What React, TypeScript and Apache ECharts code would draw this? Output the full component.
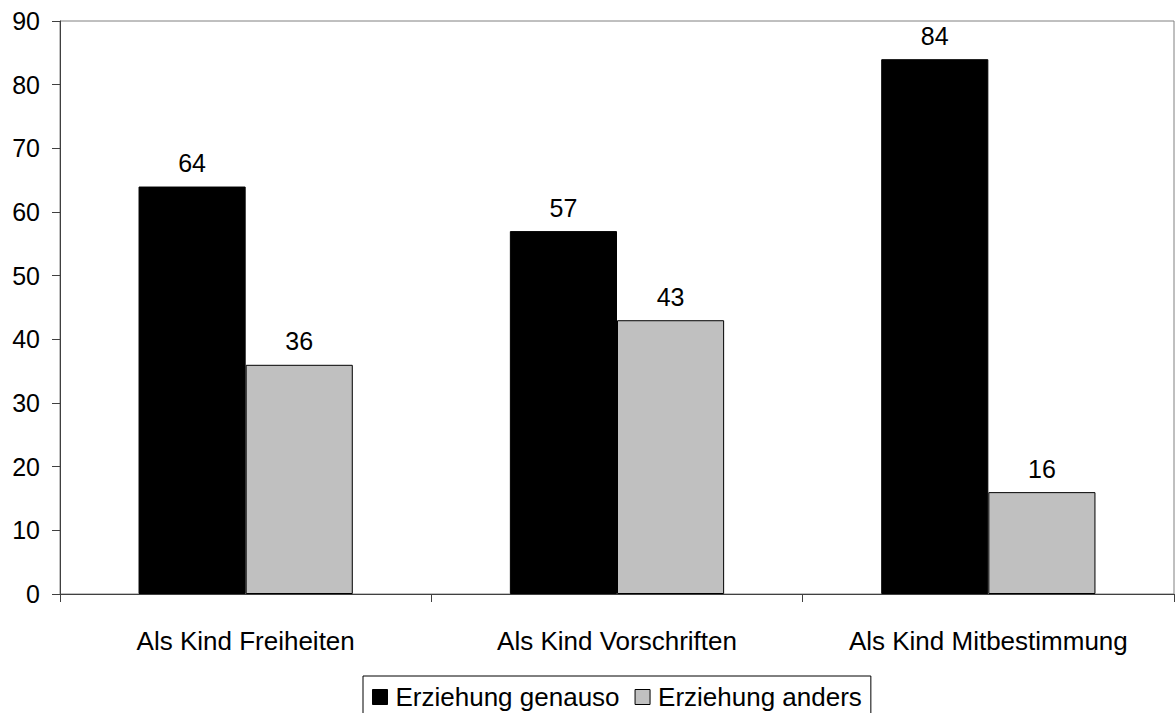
import React, { useEffect, useRef } from "react";
import * as echarts from "echarts";

const categories = ["Als Kind Freiheiten", "Als Kind Vorschriften", "Als Kind Mitbestimmung"];
const seriesNames = ["Erziehung genauso", "Erziehung anders"];
const genauso = [64, 57, 84];
const anders = [36, 43, 16];

export default function App() {
  const ref = useRef<HTMLDivElement>(null);
  useEffect(() => {
    document.body.style.margin = "0";
    const chart = echarts.init(ref.current!, null, { renderer: "svg" });
    const font = "'Liberation Sans', Arial, sans-serif";
    chart.setOption({
      animation: false,
      textStyle: { fontFamily: font },
      grid: {
        left: 60,
        right: 1,
        top: 21,
        bottom: 119,
        show: true,
        borderColor: "#808080",
        borderWidth: 1,
        containLabel: false,
      },
      legend: {
        top: 676,
        left: 363,
        data: seriesNames,
        icon: "rect",
        itemWidth: 15,
        itemHeight: 15,
        itemGap: 15,
        borderColor: "#000",
        borderWidth: 1,
        padding: [8, 9, 8, 9],
        itemStyle: { borderColor: "#000", borderWidth: 1 },
        textStyle: { fontSize: 26, color: "#000", fontFamily: font, padding: [12, 0, 0, 3] },
      },
      xAxis: {
        type: "category",
        data: categories,
        axisLine: { lineStyle: { color: "#404040", width: 1 } },
        axisTick: { show: true, length: 8, lineStyle: { color: "#404040" } },
        axisLabel: { fontSize: 26, color: "#000", margin: 34, fontFamily: font },
      },
      yAxis: {
        type: "value",
        min: 0,
        max: 90,
        interval: 10,
        splitLine: { show: false },
        axisLine: { show: true, lineStyle: { color: "#404040", width: 1 } },
        axisTick: { show: true, length: 8, lineStyle: { color: "#404040" } },
        axisLabel: { fontSize: 25, color: "#000", margin: 20, fontFamily: font },
      },
      series: [
        {
          name: seriesNames[0],
          type: "bar",
          data: genauso,
          barGap: "0%",
          barCategoryGap: "42.3%",
          itemStyle: { color: "#000", borderColor: "#000", borderWidth: 1 },
          label: { show: true, position: "top", distance: 11, fontSize: 25, color: "#000", fontFamily: font },
        },
        {
          name: seriesNames[1],
          type: "bar",
          data: anders,
          barGap: "0%",
          barCategoryGap: "42.3%",
          itemStyle: { color: "#c0c0c0", borderColor: "#000", borderWidth: 1 },
          label: { show: true, position: "top", distance: 11, fontSize: 25, color: "#000", fontFamily: font },
        },
      ],
    });
    return () => chart.dispose();
  }, []);
  return <div ref={ref} style={{ position: "absolute", left: 0, top: 0, width: 1175, height: 713 }} />;
}
